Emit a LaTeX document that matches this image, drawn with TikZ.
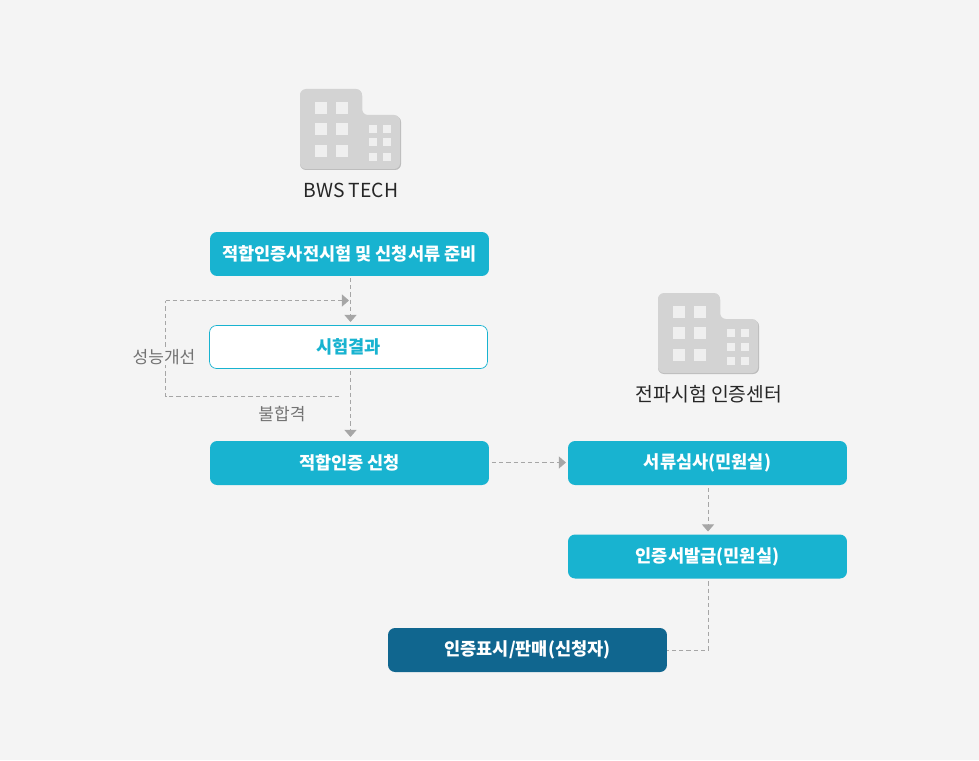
\documentclass[tikz,border=0pt]{standalone}
\usepackage{fontspec}
\setmainfont{Noto Sans CJK KR}
\usepackage{xcolor}
\usetikzlibrary{arrows.meta, positioning}
\definecolor{pagegray}{HTML}{F4F4F4}
\definecolor{boxcyan}{HTML}{18B3D0}
\definecolor{boxdark}{HTML}{10668F}
\definecolor{linegray}{HTML}{A6A6A6}
\definecolor{bodygray}{HTML}{D3D3D3}
\definecolor{shadegray}{HTML}{BDBDBD}
\definecolor{wingray}{HTML}{EFEFEF}
\tikzset{
	box/.style={minimum width=5.58cm, minimum height=0.88cm, inner sep=0pt, rounded corners=0.14cm, fill=boxcyan, text=white, font=\fontsize{10pt}{11pt}\selectfont\bfseries},
	openbox/.style={box, fill=white, draw=boxcyan, line width=0.4pt, minimum width=5.56cm, minimum height=0.86cm, text=boxcyan},
	darkbox/.style={box, fill=boxdark},
	note/.style={text=black!55, inner sep=0pt, font=\fontsize{9.7pt}{11pt}\selectfont},
	place/.style={text=black!85, inner sep=0pt, font=\fontsize{11pt}{12pt}\selectfont},
	flow/.style={draw=linegray, line width=0.57pt, dash pattern=on 2.4pt off 1.7pt},
	win/.style={fill=wingray},
	pics/building/.style={code={
		\fill[shadegray, rounded corners=0.12cm] (0,1) -- (0,81) -- (101,81) -- (101,27) -- (62,27) -- (62,1) -- cycle;
		\fill[bodygray, rounded corners=0.12cm] (0,0) -- (0,80) -- (100,80) -- (100,26) -- (62,26) -- (62,0) -- cycle;
		\foreach \row in {13,34,56}
			\foreach \col in {15,36}
				\fill[win] (\col,\row) rectangle ++(12,12);
		\foreach \row in {36,49.5,64}
			\foreach \col in {69,82.5}
				\fill[win] (\col,\row) rectangle ++(8,8);
	}}
}
\begin{document}
\begin{tikzpicture}[x=0.02cm, y=-0.02cm, >={Triangle[width=6.8pt, length=4pt]}]
	\fill[pagegray] (0,0) rectangle (979,760);
	\pic at (300,89) {building};
	\pic at (658,293) {building};
	\node at (351,190) (bws) [place] {BWS TECH};
	\node at (709,394) (center) [place] {전파시험 인증센터};
	\node at (349.5,254) (prep) [box] {적합인증사전시험 및 신청서류 준비};
	\node at (348.5,347) (result) [openbox] {시험결과};
	\node at (349.5,463) (apply) [box] {적합인증 신청};
	\node at (707.5,463) (review) [box] {서류심사(민원실)};
	\node at (707.5,556.5) (issue) [box] {인증서발급(민원실)};
	\node at (527.5,650) (mark) [darkbox] {인증표시/판매(신청자)};
	\coordinate (failout) at (339,396.5);
	\coordinate (failin) at (349,300.5);
	\draw[flow] (failout) -- (165.5,396.5) -- (165.5,300.5);
	\draw[flow, ->] (165.5,300.5) -- (failin);
	\node at (164,357) (improve) [note, fill=pagegray] {성능개선};
	\node at (282,414) (fail) [note] {불합격};
	\draw[flow, ->] (350.5,278) -- (350.5,322);
	\draw[flow, ->] (350.5,371) -- (350.5,437);
	\draw[flow, ->, shorten <=1.5pt, shorten >=1pt] ([yshift=0.01cm]apply.east) -- ([yshift=0.01cm]review.west);
	\draw[flow, ->, shorten <=1.5pt, shorten >=1.5pt] ([xshift=0.01cm]review.south) -- ([xshift=0.01cm]issue.north);
	\draw[flow, shorten <=1.5pt] ([xshift=0.01cm]issue.south) |- ([yshift=-0.01cm]mark.east);
\end{tikzpicture}
\end{document}
